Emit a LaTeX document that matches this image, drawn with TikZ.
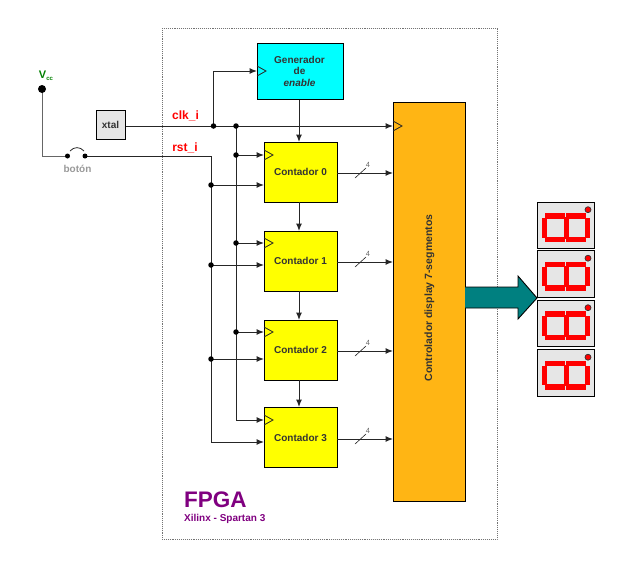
\documentclass[tikz,border=0pt]{standalone}
\usepackage{fontspec}
\setmainfont{Liberation Sans}
\usetikzlibrary{arrows.meta,calc}
\definecolor{txtgray}{HTML}{333333}
\definecolor{fpgap}{HTML}{800080}
\definecolor{ctrl}{HTML}{FFB514}
\definecolor{teal2}{HTML}{008080}
\definecolor{panel}{HTML}{E6E6E6}
\definecolor{cyanb}{HTML}{00FFFF}
\definecolor{yellowb}{HTML}{FFFF00}
\definecolor{redb}{HTML}{FF0000}
\definecolor{vccg}{HTML}{008000}
\tikzset{
 x=1pt,y=-1pt,
 block/.style={draw=black,line width=.9pt,inner sep=0,anchor=north west},
 lbl/.style={font=\bfseries\fontsize{10}{12}\selectfont,text=txtgray,inner sep=0,align=center},
 wire/.style={draw=black!85,line width=1pt},
 arr/.style={wire,-{Latex[length=7.5pt,width=6pt]}},
 dot/.style={circle,fill=black,inner sep=0,minimum size=5.5pt},
 clk/.style={draw=black!85,line width=.8pt,fill=none},
 sig/.style={text=redb,font=\bfseries\fontsize{12}{14}\selectfont,inner sep=0},
 bus/.style={font=\fontsize{7.5}{8}\selectfont,text=black!60,inner sep=0},
 seg/.style={fill=redb,draw=none},
 disp/.style={draw=black,line width=.9pt,fill=panel},
}
\newcommand{\sevenseg}[1]{%
 \begin{scope}[shift={(537,#1)}]
  \draw[disp] (0,0) rectangle (57,46.5);
  \fill[seg] (8,11.3) rectangle (27.5,16.7);
  \fill[seg] (8,34.7) rectangle (27.5,40);
  \fill[seg] (29,11.3) rectangle (48.5,16.7);
  \fill[seg] (29,34.7) rectangle (48.5,40);
  \fill[seg] (5,16) rectangle (9.5,35.5);
  \fill[seg] (26.5,15) rectangle (31.5,36.5);
  \fill[seg] (48,16) rectangle (52.5,35.5);
  \draw[fill=redb,draw=black!80,line width=.7pt] (51,7.7) circle (3pt);
 \end{scope}}
\begin{document}
\begin{tikzpicture}
\useasboundingbox (0,0) rectangle (635,560);
% FPGA frame
\draw[draw=black!55,line width=.9pt,densely dotted] (162,28) rectangle (497,539);
% blocks
\node[block,fill=cyanb,minimum width=85.5pt,minimum height=56pt] (gen) at (257,43) {};
\node[lbl,font=\bfseries\fontsize{10}{11.5}\selectfont] (gent) at (299.5,71) {Generador\\de\\{\itshape enable}};
\node[block,fill=yellowb,minimum width=73pt,minimum height=60pt] (c0) at (264,142) {};
\node[block,fill=yellowb,minimum width=73pt,minimum height=60pt] (c1) at (264,231) {};
\node[block,fill=yellowb,minimum width=73pt,minimum height=60pt] (c2) at (264,320) {};
\node[block,fill=yellowb,minimum width=73pt,minimum height=60pt] (c3) at (264,407) {};
\node[lbl] (t0) at (300.5,172) {Contador 0};
\node[lbl] (t1) at (300.5,261) {Contador 1};
\node[lbl] (t2) at (300.5,350) {Contador 2};
\node[lbl] (t3) at (300.5,437.5) {Contador 3};
\node[block,fill=ctrl,minimum width=72pt,minimum height=399pt] (ctl) at (393,102) {};
\node[lbl,rotate=90,font=\bfseries\fontsize{10.5}{12}\selectfont] (ctlt) at (429.5,298) {Controlador display 7-segmentos};
\node[block,fill=panel,minimum width=29pt,minimum height=29pt] (xt) at (96,110) {};
\node[lbl] (xtt) at (110.5,124.5) {xtal};
% named junctions
\coordinate (vcc) at (42,89);
\coordinate (corner) at (42,156);
\coordinate (swa) at (67.5,156);
\coordinate (swb) at (85,156);
\coordinate (rstc) at (211,156);
\coordinate (rstb) at (211,442);
\coordinate (j1) at (213.5,126);
\coordinate (j2) at (236,126);
\coordinate (j1t) at (213.5,71);
\coordinate (clkb) at (236,420);
% wires
\draw[wire,draw=black!60] (vcc) -- (corner) -- (swa);
\draw[wire] (swb) -- (rstc) -- (rstb);
\draw[arr] (xt.east|-j1) -- (393,126);
\draw[arr] (j1) -- (j1t) -- (257,71);
\draw[wire] (j2) -- (clkb);
\draw[arr] (clkb) -- (264,420);
\draw[arr] (rstb) -- (264,442);
\foreach \y in {155,243,332} {\draw[arr] (236,\y) -- (264,\y); \node[dot] at (236,\y) {};}
\foreach \y in {185,265,359} {\draw[arr] (211,\y) -- (264,\y); \node[dot] at (211,\y) {};}
\draw[arr] (gen.south-|299,0) -- (299,142);
\draw[arr] (299,202) -- (299,231);
\draw[arr] (299,291) -- (299,320);
\draw[arr] (299,380) -- (299,407);
% bus outputs
\foreach \y in {173,262,351,439} {
 \draw[arr] (337,\y) -- (393,\y);
 \draw[draw=black!85,line width=.6pt] (355,\y+5) -- (366,\y-5);
 \node[bus] at (368,\y-8) {4};
}
% clock triangles
\foreach \x/\y in {257/71,264/155,264/243,264/332,264/420,393/126}
 \draw[clk] (\x,\y-5) -- (\x+9,\y) -- (\x,\y+5);
% dots
\node[dot,minimum size=8pt] (vd) at (vcc) {};
\node[dot,minimum size=5pt] at (swa) {};
\node[dot,minimum size=5pt] at (swb) {};
\node[dot] at (j1) {};
\node[dot] at (j2) {};
\draw[black!85,line width=.8pt] (70,151) .. controls (74,146.5) and (80,146.5) .. (84,151);
% labels
\node[font=\bfseries\fontsize{11}{12}\selectfont,text=vccg,inner sep=0] (v) at (46,75.5) {V\raisebox{-2pt}{\fontsize{6}{6}\selectfont cc}};
\node[font=\bfseries\fontsize{10}{11}\selectfont,text=black!40,inner sep=0] (bt) at (77.5,169) {botón};
\node[sig] (ck) at (185.5,116) {clk\_i};
\node[sig] (rs) at (185,147.5) {rst\_i};
\node[font=\bfseries\fontsize{22.5}{24}\selectfont,text=fpgap,inner sep=0,anchor=west] (fp) at (184,500) {FPGA};
\node[font=\bfseries\fontsize{10}{12}\selectfont,text=fpgap,inner sep=0,anchor=west] (sp) at (184,518.5) {Xilinx - Spartan 3};
% big arrow
\draw[draw=black,line width=.9pt,fill=teal2] (465,287) -- (518,287) -- (518,276) -- (537,298) -- (518,319) -- (518,308) -- (465,308);
% displays
\sevenseg{202}
\sevenseg{250.5}
\sevenseg{300}
\sevenseg{349.5}
\end{tikzpicture}
\end{document}
